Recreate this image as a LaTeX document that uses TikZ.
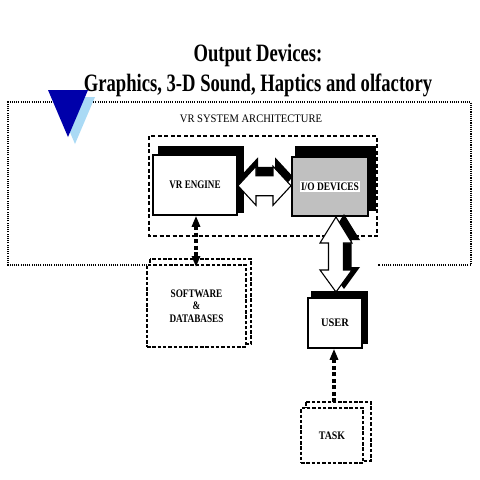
\documentclass[tikz,border=0pt]{standalone}
\usepackage{fontspec}
\setmainfont{Liberation Serif}
\usetikzlibrary{arrows.meta,backgrounds,calc}
\definecolor{triblue}{RGB}{0,0,170}
\definecolor{trishade}{RGB}{170,218,245}
\definecolor{iogray}{RGB}{192,192,192}
\newcommand{\sq}[2][0.8]{\scalebox{#1}[1]{#2}}
\begin{document}
\begin{tikzpicture}[x=1pt,y=-1pt,
  lbl/.style={font=\fontsize{11.5}{12.5}\selectfont\bfseries},
  solidbox/.style={lbl,draw,line width=1.5pt,fill=white,inner sep=0pt},
  dashbox/.style={lbl,draw,line width=1.9pt,dash pattern=on 3.5pt off 1.8pt,fill=white,inner sep=0pt},
  dashshade/.style={draw,line width=1.9pt,dash pattern=on 3.5pt off 1.8pt},
  outerframe/.style={draw,line width=1.5pt,dash pattern=on 1.1pt off 1.1pt},
  innerframe/.style={draw,line width=1.3pt,dash pattern=on 4pt off 2.5pt},
  bigarrow/.style={draw,line width=1.1pt,fill=white,line join=miter},
  dotarrow/.style={line width=3.2pt,dash pattern=on 4pt off 2.5pt}]
\useasboundingbox (0,0) rectangle (480,480);

% titles
\node[font=\fontsize{25}{30}\selectfont\bfseries,anchor=base] (t1) at (258,61) {\sq[0.745]{Output Devices:}};
\node[font=\fontsize{25}{30}\selectfont\bfseries,anchor=base] (t2) at (258,91) {\sq[0.745]{Graphics, 3-D Sound, Haptics and olfactory}};
\node[font=\fontsize{11.5}{13}\selectfont,anchor=base] (sub) at (251,122) {\sq[0.92]{VR SYSTEM ARCHITECTURE}};

% boxes
\node[solidbox,minimum width=84pt,minimum height=60pt] (vr) at (195,185) {\sq[0.79]{VR ENGINE}};
\node[solidbox,fill=iogray,minimum width=76pt,minimum height=59pt] (io) at (330,186.5) {\setlength\fboxsep{1.5pt}\colorbox{white}{\sq[0.82]{I/O DEVICES}}};
\node[dashbox,minimum width=99pt,minimum height=82pt,align=center] (sw) at (196.5,306) {\sq{SOFTWARE}\\\sq{\&}\\\sq{DATABASES}};
\node[solidbox,minimum width=54pt,minimum height=50pt] (user) at (335,323) {\sq[0.91]{USER}};
\node[dashbox,minimum width=62pt,minimum height=55pt] (task) at (332,435.5) {\sq[0.86]{TASK}};

\begin{pgfonlayer}{background}
  \path[outerframe] (147,265) -- (8,265) -- (8,102) -- (471,102) -- (471,265) -- (378,265);
  \path[innerframe] (149,136) rectangle (377,236);
  \fill ([shift={(6,-8)}]vr.north west) rectangle ([shift={(6,-3)}]vr.south east);
  \fill ([shift={(4,-10)}]io.north west) rectangle ([shift={(7,-6)}]io.south east);
  \fill ([shift={(4,-6)}]user.north west) rectangle ([shift={(5,-5)}]user.south east);
  \path[dashshade] ([shift={(4,-5)}]sw.north west) rectangle ([shift={(4,-4)}]sw.south east);
  \path[dashshade] ([shift={(6,-5)}]task.north west) rectangle ([shift={(7,-3)}]task.south east);
\end{pgfonlayer}

% triangle logo
\fill[trishade] (55,97) -- (95,97) -- (75,144) -- cycle;
\fill[triblue] (48,90) -- (88,90) -- (68,137) -- cycle;

% horizontal double arrow VR <-> I/O
\begin{scope}[shift={($(vr.east)!0.5!(io.west)$)}]
  \fill[shift={(2,-9)}] (-26.5,0) -- (-8.5,-19.5) -- (-8.5,-10) -- (8.5,-10) -- (8.5,-19.5) -- (26.5,0) -- (8.5,19.5) -- (8.5,10) -- (-8.5,10) -- (-8.5,19.5) -- cycle;
  \path[bigarrow] (-26.5,0) -- (-8.5,-19.5) -- (-8.5,-10) -- (8.5,-10) -- (8.5,-19.5) -- (26.5,0) -- (8.5,19.5) -- (8.5,10) -- (-8.5,10) -- (-8.5,19.5) -- cycle;
\end{scope}

% vertical double arrow I/O <-> USER
\begin{scope}[shift={($(io.south)!0.5!(user.north)+(3.5,-2.5)$)}]
  \fill[shift={(8,-3)}] (0,-37.5) -- (16,-11.5) -- (7.5,-11.5) -- (7.5,15.5) -- (16,15.5) -- (0,37.5) -- (-16,15.5) -- (-7.5,15.5) -- (-7.5,-11.5) -- (-16,-11.5) -- cycle;
  \path[bigarrow] (0,-37.5) -- (16,-11.5) -- (7.5,-11.5) -- (7.5,15.5) -- (16,15.5) -- (0,37.5) -- (-16,15.5) -- (-7.5,15.5) -- (-7.5,-11.5) -- (-16,-11.5) -- cycle;
\end{scope}

% dotted arrows
\draw[dotarrow,{Triangle[width=8pt,length=11pt]}-{Triangle[width=8pt,length=11pt]}] ([xshift=1pt]vr.south) -- ([xshift=1pt,yshift=-3pt]vr.south |- sw.north);
\draw[dotarrow,-{Triangle[width=8pt,length=11pt]}] ([xshift=2pt,yshift=5pt]task.north) -- ([xshift=2pt]task.north |- user.south);
\end{tikzpicture}
\end{document}
